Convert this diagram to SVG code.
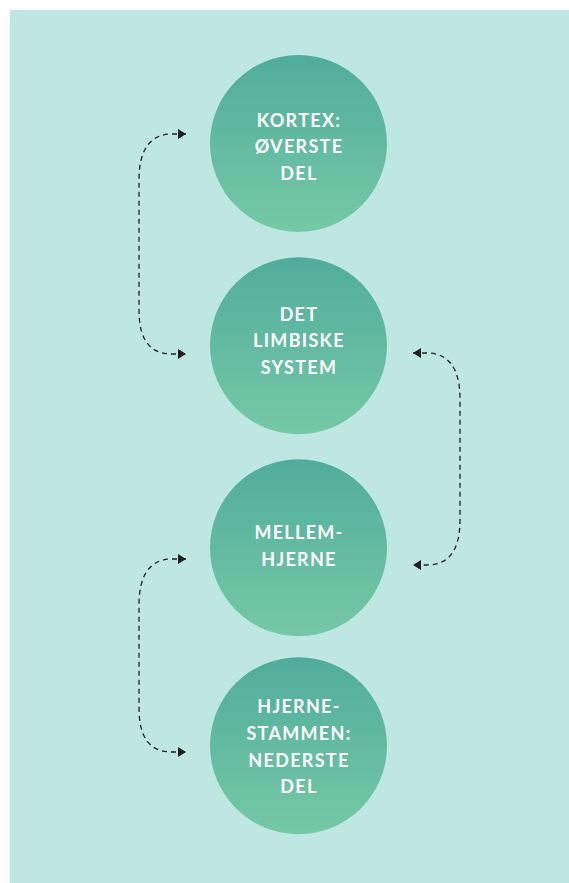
<svg xmlns="http://www.w3.org/2000/svg" width="569" height="883" viewBox="0 0 569 883">
<defs>
<linearGradient id="g" x1="0" y1="0" x2="0" y2="1">
<stop offset="0" stop-color="#50AC9B"/>
<stop offset="1" stop-color="#76C9A6"/>
</linearGradient>
<marker id="ah" viewBox="0 0 8 10" refX="8" refY="5" markerWidth="8" markerHeight="10" markerUnits="userSpaceOnUse" orient="auto-start-reverse">
<path d="M0,0 L8,5 L0,10 Z" fill="#231F20"/>
</marker>
<style>
.c{fill:url(#g)}
.t{font-family:Lato,"Open Sans","Liberation Sans",sans-serif;font-weight:bold;font-size:18px;fill:#fff;text-anchor:middle;letter-spacing:1.3px}
.k{fill:none;stroke:#231F20;stroke-width:1.3;stroke-dasharray:5 4;marker-start:url(#ah);marker-end:url(#ah)}
</style>
</defs>
<rect x="10" y="10" width="559" height="873" fill="#BDE7E0"/>
<g id="connectors">
<path class="k" d="M186,134 L172,134 C150,134 139,150 139,180 L139,310 C139,340 150,354 172,354 L186,354"/>
<path class="k" d="M413,353 L427,353 C449,353 460,369 460,399 L460,520 C460,550 449,565 427,565 L413,565"/>
<path class="k" d="M186,559 L172,559 C150,559 139,575 139,605 L139,708 C139,738 150,752 172,752 L186,752"/>
</g>
<g id="kortex">
<circle class="c" cx="298.5" cy="143.5" r="88.5"/>
<text class="t" x="299" y="126.5">KORTEX:</text>
<text class="t" x="299" y="153.2">ØVERSTE</text>
<text class="t" x="299" y="180">DEL</text>
</g>
<g id="limbiske">
<circle class="c" cx="298.5" cy="345.7" r="88.5"/>
<text class="t" x="299" y="320.7">DET</text>
<text class="t" x="299" y="347.3">LIMBISKE</text>
<text class="t" x="299" y="374">SYSTEM</text>
</g>
<g id="mellemhjerne">
<circle class="c" cx="298.5" cy="547.7" r="88.5"/>
<text class="t" x="299" y="539.3">MELLEM-</text>
<text class="t" x="299" y="566">HJERNE</text>
</g>
<g id="hjernestammen">
<circle class="c" cx="298.5" cy="745.7" r="88.5"/>
<text class="t" x="299" y="713.3">HJERNE-</text>
<text class="t" x="299" y="740">STAMMEN:</text>
<text class="t" x="299" y="766.7">NEDERSTE</text>
<text class="t" x="299" y="793.3">DEL</text>
</g>
</svg>
